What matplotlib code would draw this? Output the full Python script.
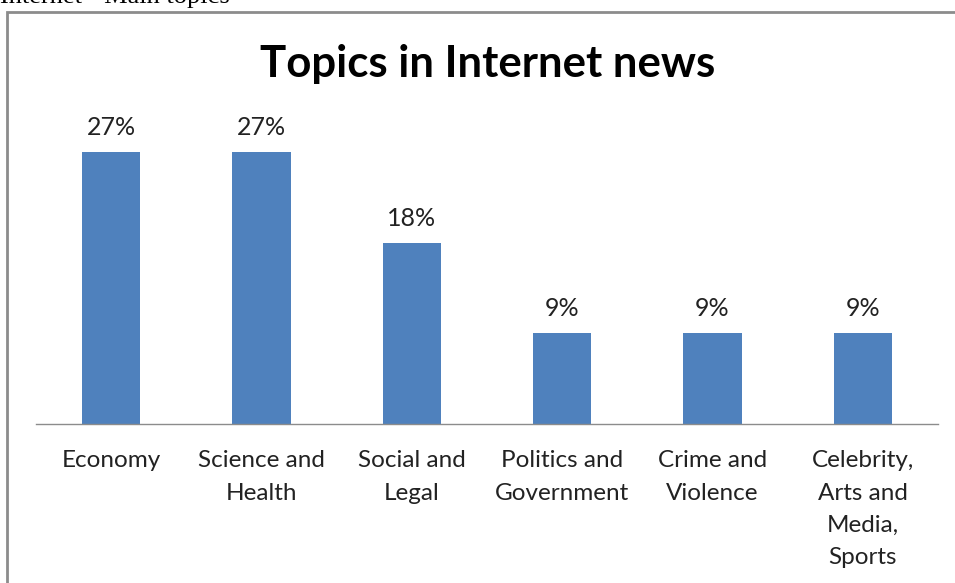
import matplotlib.pyplot as plt
from matplotlib.patches import Rectangle

# topic shares in percent
categories = ["Economy", "Science and\nHealth", "Social and\nLegal",
              "Politics and\nGovernment", "Crime and\nViolence",
              "Celebrity,\nArts and\nMedia,\nSports"]
shares = [27, 27, 18, 9, 9, 9]
bar_color = "#4f81bd"

W, H = 955, 583
fig = plt.figure(figsize=(W / 100, H / 100), dpi=100)

# gray frame around the chart (runs off the right and bottom edges)
fig.patches.append(Rectangle((7 / W, -0.1), 1.1, 1 - 12 / H + 0.1,
                             transform=fig.transFigure, fill=False,
                             edgecolor="#8c8c8c", linewidth=2))

# caption of the page, cut off at the top
fig.text(0 / W, 1 - 3 / H, "Internet - Main topics", family="Liberation Serif",
         fontsize=19, va="baseline", ha="left", color="black")

# axes: baseline at y=424, x from 36 to 938
ax = fig.add_axes([36 / W, 1 - 424 / H, 902 / W, 324 / H])
x = range(len(categories))
bars = ax.bar(x, shares, width=0.39, color=bar_color)
ax.set_xlim(-0.5, len(categories) - 0.5)
ax.set_ylim(0, 32.2)

for b, v in zip(bars, shares):
    ax.text(b.get_x() + b.get_width() / 2, v + 1.3, f"{v}%", ha="center",
            va="bottom", family="Lato", fontsize=18, color="#222222")

ax.set_xticks(list(x))
ax.set_xticklabels(categories, family="Lato", fontsize=17.5, color="#222222",
                   linespacing=1.66, va="top")
ax.tick_params(axis="x", length=0, pad=19)
ax.set_yticks([])
for side in ["left", "right", "top"]:
    ax.spines[side].set_visible(False)
ax.spines["bottom"].set_color("#8c8c8c")
ax.spines["bottom"].set_linewidth(1)

fig.text(488 / W, 1 - 64 / H, "Topics in Internet news", family="Lato",
         fontweight="bold", fontsize=31.5, ha="center", va="center")

fig.savefig("out.png", dpi=100)
